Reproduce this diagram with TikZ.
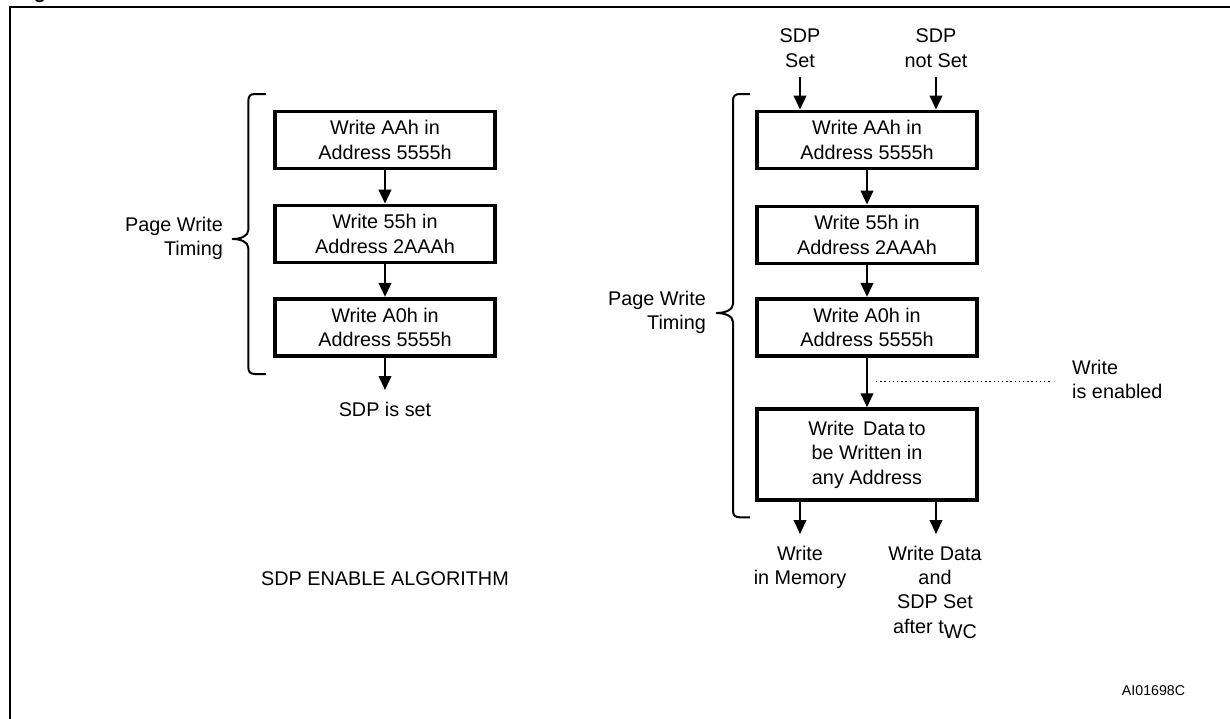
\documentclass[tikz,border=0pt]{standalone}
\usepackage{fontspec}
\setmainfont{Liberation Sans}
\usetikzlibrary{arrows.meta}

% #1 spine x, #2 top y, #3 bottom y, #4 hook end x, #5 tip x, #6 tip y
\newcommand{\timingbrace}[6]{%
  \draw[brace] (#4,#2) -- ({#1+7},#2) .. controls ({#1+2},#2) and (#1,{#2+2}) .. (#1,{#2+7})
    -- (#1,{#6-9}) .. controls (#1,{#6-3}) and ({#5+8},#6) .. (#5,#6)
    .. controls ({#5+8},#6) and (#1,{#6+3}) .. (#1,{#6+9})
    -- (#1,{#3-7}) .. controls (#1,{#3-2}) and ({#1+2},#3) .. ({#1+7},#3) -- (#4,#3);}

\begin{document}
\begin{tikzpicture}[x=1pt,y=-1pt,
  txt/.style={font=\fontsize{19.8}{24.4}\selectfont, inner sep=0pt, align=center},
  stepbox/.style={txt, draw, line width=3.8pt, minimum width=220pt, minimum height=57pt},
  arr/.style={line width=2.3pt, -{Triangle[length=14pt,width=12.5pt]}},
  brace/.style={line width=2pt, line join=round},
  dots/.style={line width=1.4pt, dash pattern=on 1.4pt off 2.8pt},
]
\useasboundingbox (0,0) rectangle (1230,718);

% frame and the title above it
\node[anchor=base west, inner sep=0pt, font=\bfseries\fontsize{19.8}{24}\selectfont] (fig) at (16,-1.2) {Figure};
\draw[line width=2.4pt] (10,730) -- (10,7) -- (1240,7);

% ---------- left: enable sequence ----------
\node[stepbox] (l1) at (385,140)   {Write AAh in\\Address 5555h};
\node[stepbox] (l2) at (385,234)   {Write 55h in\\Address 2AAAh};
\node[stepbox] (l3) at (385,327.3) {Write A0h in\\Address 5555h};
\draw[arr] (l1) -- (l2);
\draw[arr] (l2) -- (l3);
\coordinate (lend) at (385,390);
\draw[arr] (l3) -- (lend);
\node[txt, anchor=north] (sdpis) at (385,401.8) {SDP is set};

\timingbrace{248.3}{94}{374}{266}{232.7}{239}
\node[txt, align=right, anchor=north east] (pwl) at (223,216.8) {Page Write\\Timing};

\node[txt] (title) at (385,579) {SDP ENABLE ALGORITHM};

% ---------- right: write with protection ----------
\node[txt, anchor=north] (sdpset) at (800,28.8) {SDP\\Set};
\node[txt, anchor=north] (sdpnot) at (936,28.8) {SDP\\not Set};

\node[stepbox] (r1) at (867,140)   {Write AAh in\\Address 5555h};
\node[stepbox] (r2) at (867,235)   {Write 55h in\\Address 2AAAh};
\node[stepbox] (r3) at (867,327.3) {Write A0h in\\Address 5555h};
\node[stepbox, minimum height=90.6pt] (r4) at (867,454.5)
  {Write\hspace{0.45em}Data\hspace{0.2em}to\\be Written in\\any Address};

\coordinate (in1) at (800,77);
\coordinate (in2) at (936,77);
\draw[arr] (in1) -- (in1 |- r1.north);
\draw[arr] (in2) -- (in2 |- r1.north);
\draw[arr] (r1) -- (r2);
\draw[arr] (r2) -- (r3);
\draw[arr] (r3) -- (r4);

\node[txt, align=left, anchor=north west] (wen) at (1072,359.5) {Write\\is enabled};
\coordinate (en1) at (876,381.7);
\draw[dots] (en1) -- ([xshift=-21pt]wen.west |- en1);

\coordinate (out1) at (800,534);
\coordinate (out2) at (936,534);
\draw[arr] (r4.south -| out1) -- (out1);
\draw[arr] (r4.south -| out2) -- (out2);
\node[txt, anchor=north] (wmem) at (800,545.5) {Write\\in Memory};
\node[txt, anchor=north] (wdat) at (935,545.5)
  {Write Data\\and\\SDP Set\\after t\raisebox{-0.28em}{WC}};

\timingbrace{733}{94}{517.3}{750}{716.7}{313}
\node[txt, align=right, anchor=north east] (pwr) at (706,290.8) {Page Write\\Timing};

\node[inner sep=0pt, font=\fontsize{14.2}{17}\selectfont] (ref) at (1153.5,691) {AI01698C};
\end{tikzpicture}
\end{document}
